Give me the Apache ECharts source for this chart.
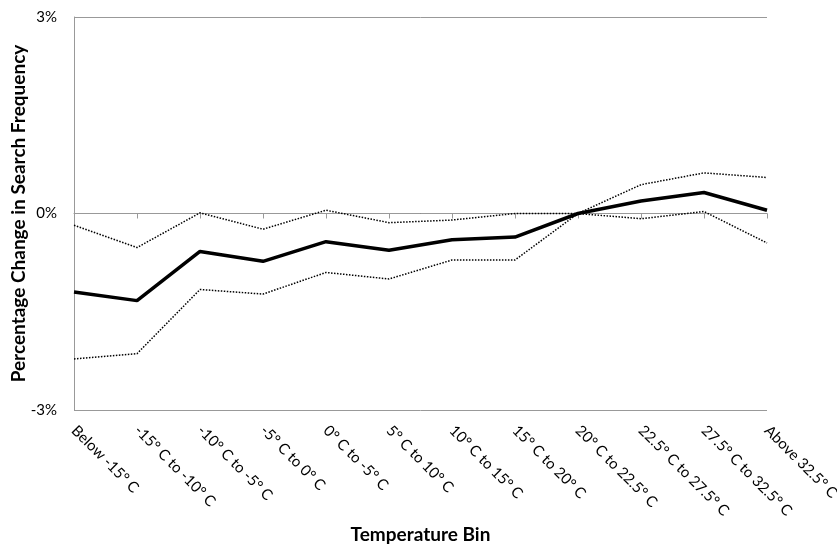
<!DOCTYPE html>
<html>
<head>
<meta charset="utf-8">
<script src="https://cdn.jsdelivr.net/npm/echarts@6/dist/echarts.min.js"></script>
<style>html,body{margin:0;padding:0;background:#fff;overflow:hidden}#c{width:837px;height:548px}</style>
</head>
<body>
<div id="c"></div>
<script>
var categories = ["Below -15\u00b0 C", "-15\u00b0 C to -10\u00b0 C", "-10\u00b0 C to -5\u00b0 C", "-5\u00b0 C to 0\u00b0 C", "0\u00b0 C to -5\u00b0 C", "5\u00b0 C to 10\u00b0 C", "10\u00b0 C to 15\u00b0 C", "15\u00b0 C to 20\u00b0 C", "20\u00b0 C to 22.5\u00b0 C", "22.5\u00b0 C to 27.5\u00b0 C", "27.5\u00b0 C to 32.5\u00b0 C", "Above 32.5\u00b0 C"];
var estimate = [-1.20, -1.33, -0.58, -0.73, -0.43, -0.56, -0.40, -0.36, 0.00, 0.19, 0.32, 0.05];
var upperBound = [-0.18, -0.52, 0.01, -0.24, 0.05, -0.14, -0.10, 0.00, 0.00, 0.44, 0.62, 0.55];
var lowerBound = [-2.22, -2.14, -1.16, -1.23, -0.90, -1.00, -0.71, -0.71, 0.00, -0.08, 0.03, -0.45];
var yTicks = [-3, 0, 3];

var font = "Lato, 'Open Sans', sans-serif";
var chart = echarts.init(document.getElementById('c'), null, {renderer: 'canvas'});
chart.setOption({
  animation: false,
  backgroundColor: '#ffffff',
  grid: {left: 74, right: 70, top: 17, bottom: 138, containLabel: false, outerBoundsMode: 'none'},
  xAxis: {
    type: 'category',
    data: categories,
    boundaryGap: false,
    name: 'Temperature Bin',
    nameLocation: 'middle',
    nameGap: 114,
    nameTextStyle: {fontFamily: font, fontWeight: 'bold', fontSize: 19, color: '#000'},
    axisLine: {lineStyle: {color: '#999', width: 1}},
    axisTick: {show: true, alignWithLabel: true, length: 5, lineStyle: {color: '#999'}},
    axisLabel: {rotate: -45, interval: 0, fontFamily: font, fontSize: 15, color: '#000', margin: 18},
    splitLine: {show: false}
  },
  yAxis: {
    type: 'value',
    min: yTicks[0],
    max: yTicks[yTicks.length - 1],
    interval: 3,
    name: 'Percentage Change in Search Frequency',
    nameLocation: 'middle',
    nameGap: 46,
    nameMoveOverlap: false,
    nameTextStyle: {fontFamily: font, fontWeight: 'bold', fontSize: 19, color: '#000'},
    axisLine: {show: true, lineStyle: {color: '#999', width: 1}},
    axisTick: {show: false},
    axisLabel: {formatter: function (v) { return v + '%'; }, fontFamily: font, fontSize: 15, color: '#000', margin: 17},
    splitLine: {show: true, lineStyle: {color: ['#999', '#444', '#999'], width: 1}}
  },
  series: [
    {type: 'line', data: upperBound, symbol: 'none', lineStyle: {color: '#000', width: 1.5, type: 'dotted'}, z: 2},
    {type: 'line', data: lowerBound, symbol: 'none', lineStyle: {color: '#000', width: 1.5, type: 'dotted'}, z: 2},
    {type: 'line', data: estimate, symbol: 'none', lineStyle: {color: '#000', width: 3.5}, z: 3}
  ]
});
</script>
</body>
</html>
